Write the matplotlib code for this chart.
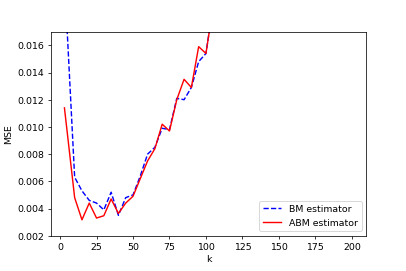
import matplotlib
matplotlib.use("Agg")
import matplotlib.pyplot as plt

k = [3, 10, 15, 20, 25, 30, 35, 40, 45, 50, 55, 60, 65, 70, 75, 80, 85, 90, 95, 100, 105]
bm = [0.0210, 0.0063, 0.0053, 0.0046, 0.0044, 0.0039, 0.0052, 0.0035, 0.0048, 0.0050,
      0.0064, 0.0080, 0.0085, 0.0099, 0.0098, 0.0121, 0.0120, 0.0129, 0.0148, 0.0154, 0.0190]
abm = [0.0114, 0.0048, 0.00317, 0.0044, 0.0033, 0.00347, 0.0047, 0.00364, 0.0044, 0.0049,
       0.0062, 0.0075, 0.0084, 0.0102, 0.0097, 0.0120, 0.0135, 0.0129, 0.0159, 0.0154, 0.0189]

fig = plt.figure(figsize=(6, 4), dpi=67.83)
fig.subplots_adjust(left=0.125, right=0.9, bottom=0.13, top=0.882)
plt.plot(k, bm, 'b--', label="BM estimator")
plt.plot(k, abm, 'r-', label="ABM estimator")
plt.xlim(-6.3, 209.9)
plt.ylim(0.002, 0.017)
plt.xlabel("k")
plt.ylabel("MSE")
plt.legend(loc="lower right")
plt.savefig("out.png", dpi=67.83)
